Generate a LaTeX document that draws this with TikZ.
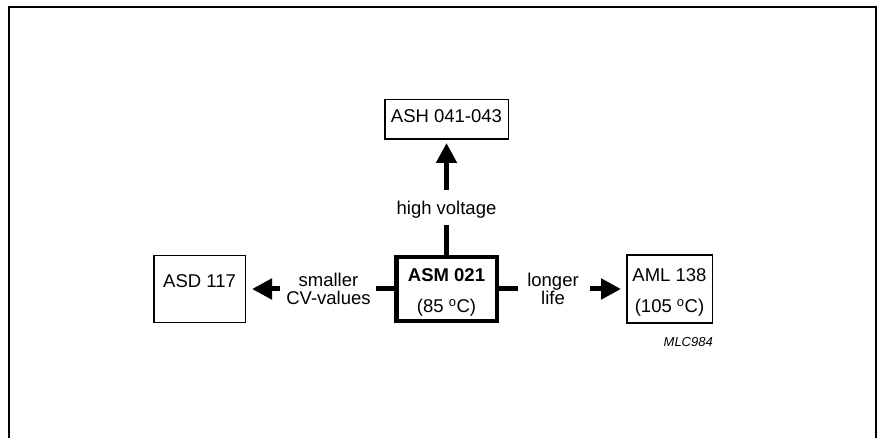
\documentclass[tikz,border=0pt]{standalone}
\usepackage{fontspec}
\setmainfont{Liberation Sans}
\usetikzlibrary{arrows.meta}
\begin{document}
\begin{tikzpicture}[x=1pt,y=-1pt,
  boxthin/.style={draw, line width=1.5pt, inner sep=0pt, align=center, font=\fontsize{18.5}{31}\selectfont},
  boxthick/.style={boxthin, line width=4.5pt},
  lbl/.style={inner sep=0pt, align=center, font=\fontsize{18.5}{18.5}\selectfont},
  conn/.style={line width=5pt},
  arr/.style={conn, -{Triangle[length=20pt,width=20pt]}},
  frame/.style={line width=1.5pt},
]
\useasboundingbox (0,0) rectangle (878,438);
\draw[frame] (9,438) |- (876,7) -- (876,438);

\node[boxthin, minimum width=123.5pt, minimum height=39.5pt, text height=13.2pt, text depth=6.2pt] (ash) at (446.5,119.5) {ASH 041-043};
\node[boxthin, minimum width=91.5pt, minimum height=66.5pt, text height=13.2pt, text depth=17pt] (asd) at (199.5,289) {ASD 117};
\node[boxthick, minimum width=100.5pt, minimum height=63.5pt] (asm) at (446.5,289) {\rule{0pt}{20pt}\textbf{ASM 021}\\(85 \textsuperscript{o}C)};
\node[boxthin, minimum width=85.5pt, minimum height=67.5pt] (aml) at (669.5,289) {\rule{0pt}{20pt}AML 138\\(105 \textsuperscript{o}C)};

\node[lbl, anchor=base] (hv) at (446.5,215) {high voltage};
\node[lbl] (lsm) at (328.5,289) {smaller\\CV-values};
\node[lbl] (lln) at (553,289) {longer\\life};

\draw[conn, shorten >=6pt] (asm.north) -- (hv.south);
\draw[arr, shorten <=11.5pt, shorten >=3pt] (hv.north) -- (ash.south);
\draw[conn, shorten >=5pt] (asm.west) -- (lsm.east);
\draw[arr, shorten <=6pt, shorten >=6pt] (lsm.west) -- (asd.east);
\draw[conn, shorten >=9pt] (asm.east) -- (lln.west);
\draw[arr, shorten <=11.5pt, shorten >=5pt] (lln.east) -- (aml.west);

\node[anchor=base east, inner sep=0pt, font=\fontsize{13}{13}\selectfont\itshape] (mlc) at (713,346) {MLC984};
\end{tikzpicture}
\end{document}
